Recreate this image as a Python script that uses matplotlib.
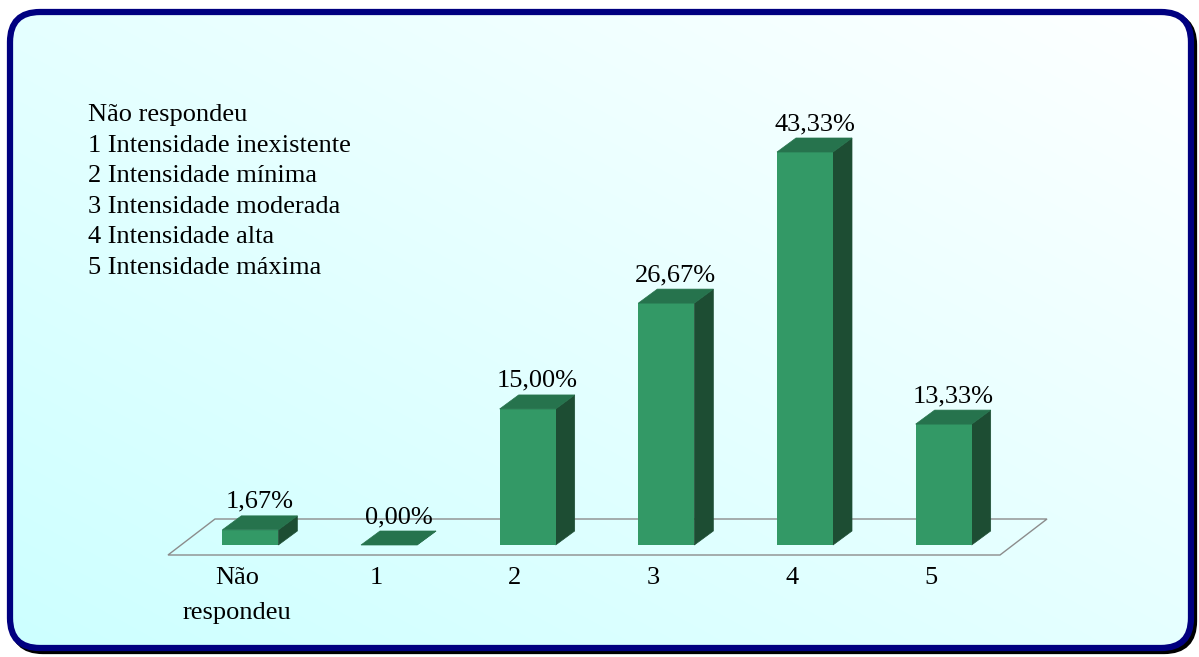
import numpy as np
import matplotlib
matplotlib.use("Agg")
import matplotlib.pyplot as plt
from matplotlib.patches import FancyBboxPatch, Polygon

# ---- data ----
categories = ["Não\nrespondeu", "1", "2", "3", "4", "5"]
percentages = [1.67, 0.00, 15.00, 26.67, 43.33, 13.33]
legend_lines = [
    "Não respondeu",
    "1 Intensidade inexistente",
    "2 Intensidade mínima",
    "3 Intensidade moderada",
    "4 Intensidade alta",
    "5 Intensidade máxima",
]

# ---- style ----
W, H, DPI = 1199, 657, 100
FONT = "Liberation Serif"
FS = 19
FRONT = "#339966"
TOP = "#26734D"
SIDE = "#1D4D33"
FLOOR_EDGE = "#8C8C8C"

fig = plt.figure(figsize=(W / DPI, H / DPI), dpi=DPI)

# background: diagonal cyan-to-white gradient inside a rounded navy frame
bg = fig.add_axes([0, 0, 1, 1])
bg.set_xlim(0, W)
bg.set_ylim(H, 0)
bg.axis("off")

frame_style = "round,pad=0,rounding_size=30"
shadow = FancyBboxPatch((13, 15), 1181, 636, boxstyle=frame_style,
                        facecolor="black", edgecolor="black", linewidth=4.5, zorder=0)
bg.add_patch(shadow)

yy, xx = np.mgrid[0:H, 0:W]
t = (xx / W + (1 - yy / H)) / 2.0
c0 = np.array([0.80, 1.00, 1.00])
c1 = np.array([1.00, 1.00, 1.00])
grad = c0[None, None, :] + t[..., None] * (c1 - c0)[None, None, :]
img = bg.imshow(grad, extent=(0, W, H, 0), origin="upper", zorder=1)

frame = FancyBboxPatch((10, 12), 1181, 636, boxstyle=frame_style,
                       facecolor="none", edgecolor="#000080", linewidth=4.5, zorder=2)
bg.add_patch(frame)
img.set_clip_path(frame)

# ---- plot area ----
ax_left, ax_bottom, ax_w, ax_h = 168, 102, 832, 453.5
ax = fig.add_axes([ax_left / W, ax_bottom / H, ax_w / W, ax_h / H])
ax.set_xlim(-0.5, len(categories) - 0.5)
ax.set_ylim(0, 50)
ax.patch.set_alpha(0)
for s in ax.spines.values():
    s.set_visible(False)
ax.set_yticks([])

# pixel -> data unit conversions for the 3-D depth offsets
ux = (ax.get_xlim()[1] - ax.get_xlim()[0]) / ax_w
uy = (ax.get_ylim()[1] - ax.get_ylim()[0]) / ax_h

floor_dx, floor_dy = 47 * ux, 36 * uy      # depth of the floor
bar_ox, bar_oy = 13 * ux, 10 * uy          # bars sit slightly behind the front edge
bar_dx, bar_dy = 19 * ux, 14 * uy          # depth of each bar
bar_w = 56 * ux

x0f, x1f = ax.get_xlim()
floor = Polygon([(x0f, 0), (x1f, 0), (x1f + floor_dx, floor_dy), (x0f + floor_dx, floor_dy)],
                closed=True, facecolor="none", edgecolor=FLOOR_EDGE, linewidth=1.0,
                zorder=1, clip_on=False)
ax.add_patch(floor)

xs = np.arange(len(categories))
ax.bar(xs + bar_ox, percentages, width=bar_w, bottom=bar_oy,
       color=FRONT, linewidth=0, zorder=3)

for x, v in zip(xs, percentages):
    left = x + bar_ox - bar_w / 2
    right = left + bar_w
    base = bar_oy
    top = bar_oy + v
    side = Polygon([(right, base), (right + bar_dx, base + bar_dy),
                    (right + bar_dx, top + bar_dy), (right, top)],
                   closed=True, facecolor=SIDE, edgecolor=SIDE, linewidth=0.5,
                   zorder=2, clip_on=False)
    cap = Polygon([(left, top), (right, top), (right + bar_dx, top + bar_dy),
                   (left + bar_dx, top + bar_dy)],
                  closed=True, facecolor=TOP, edgecolor=TOP, linewidth=0.5,
                  zorder=4, clip_on=False)
    ax.add_patch(side)
    ax.add_patch(cap)
    label = f"{v:.2f}".replace(".", ",") + "%"
    ax.text(x + bar_ox + bar_dx / 2, top + 22 * uy, label, ha="center", va="baseline",
            fontsize=FS, family=FONT, color="black", zorder=5)

ax.set_xticks(xs)
ax.set_xticklabels(categories, fontsize=FS, family=FONT, color="black")
ax.tick_params(axis="x", length=0, pad=9)
for lbl in ax.get_xticklabels():
    lbl.set_linespacing(1.75)

# category key in the upper left
for k, line in enumerate(legend_lines):
    y_px = 121 + 30.6 * k
    fig.text(88 / W, 1 - y_px / H, line, ha="left", va="baseline",
             fontsize=FS, family=FONT, color="black")

fig.savefig("out.png", dpi=DPI)
